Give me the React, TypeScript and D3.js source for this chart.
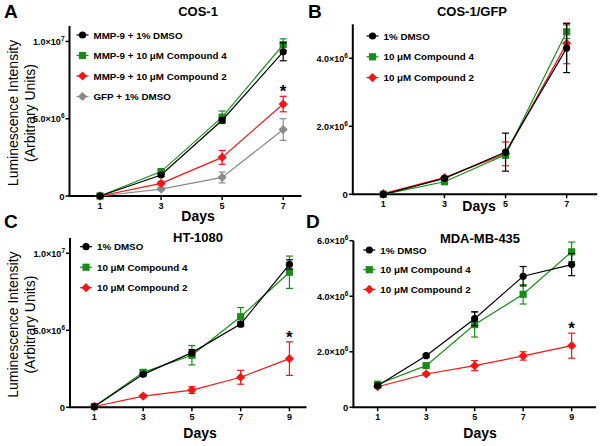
import React from 'react'
import * as d3 from 'd3'

// days sampled
const daysAB = [1, 3, 5, 7]
const daysCD = [1, 3, 5, 7, 9]

// Panel A - COS-1
const aDmso = [0, 1.36e6, 4.9e6, 9.33e6]
const aDmsoErr = [0.03e6, 0.08e6, 0.15e6, 0.58e6]
const aCpd4 = [0, 1.58e6, 5.1e6, 9.8e6]
const aCpd4Err = [0.03e6, 0.1e6, 0.4e6, 0.37e6]
const aCpd2 = [0, 0.82e6, 2.5e6, 5.95e6]
const aCpd2Err = [0.03e6, 0.1e6, 0.45e6, 0.5e6]
const aGfp = [0, 0.45e6, 1.2e6, 4.3e6]
const aGfpErr = [0.03e6, 0.1e6, 0.35e6, 0.7e6]

// Panel B - COS-1/GFP
const bDmso = [0, 0.47e6, 1.24e6, 4.3e6]
const bDmsoErr = [0.02e6, 0.04e6, 0.56e6, 0.72e6]
const bCpd4 = [0, 0.37e6, 1.16e6, 4.78e6]
const bCpd4Err = [0.02e6, 0.04e6, 0.1e6, 0.2e6]
const bCpd2 = [0.02e6, 0.49e6, 1.19e6, 4.44e6]
const bCpd2Err = [0.02e6, 0.04e6, 0.35e6, 0.6e6]

// Panel C - HT-1080
const cDmso = [0.05e6, 2.14e6, 3.55e6, 5.4e6, 9.28e6]
const cDmsoErr = [0.03e6, 0.1e6, 0.2e6, 0.15e6, 0.3e6]
const cCpd4 = [0.05e6, 2.27e6, 3.38e6, 5.88e6, 8.77e6]
const cCpd4Err = [0.03e6, 0.15e6, 0.63e6, 0.6e6, 1.05e6]
const cCpd2 = [0.05e6, 0.73e6, 1.12e6, 1.95e6, 3.16e6]
const cCpd2Err = [0.03e6, 0.1e6, 0.22e6, 0.45e6, 1.09e6]

// Panel D - MDA-MB-435
const dDmso = [0.78e6, 1.86e6, 3.19e6, 4.72e6, 5.14e6]
const dDmsoErr = [0.04e6, 0.05e6, 0.25e6, 0.35e6, 0.4e6]
const dCpd4 = [0.83e6, 1.5e6, 2.98e6, 4.07e6, 5.6e6]
const dCpd4Err = [0.04e6, 0.05e6, 0.45e6, 0.35e6, 0.35e6]
const dCpd2 = [0.74e6, 1.2e6, 1.5e6, 1.85e6, 2.22e6]
const dCpd2Err = [0.04e6, 0.05e6, 0.18e6, 0.15e6, 0.45e6]

const BLACK = '#000000'
const GREEN = '#1b8c1b'
const RED = '#f51515'
const GRAY = '#8a8a8a'

const FONT = '"Liberation Sans", Arial, Helvetica, sans-serif'

type Series = {
  label: string
  color: string
  shape: 'circle' | 'square' | 'diamond'
  values: number[]
  errs: number[]
}

type PanelCfg = {
  letter: string
  title: string
  days: number[]
  xDomain: [number, number]
  xRange: [number, number]
  yDomain: [number, number]
  yRange: [number, number]
  yTicks: number[]
  series: Series[]
  star: boolean
  yLabel: boolean
  titleX: number
  titleY: number
  letterX: number
  letterY: number
  daysX: number
  daysY: number
  legendX: number
  legendY: number
  legendGap: number
}

const panels: PanelCfg[] = [
  {
    letter: 'A', title: 'COS-1', days: daysAB,
    xDomain: [0, 7.6], xRange: [69.5, 301.5],
    yDomain: [0, 1.1e7], yRange: [196, 26],
    yTicks: [0, 5e6, 1e7], star: true, yLabel: true,
    titleX: 198, titleY: 16, letterX: 4, letterY: 18, daysX: 198, daysY: 221,
    legendX: 82.5, legendY: 35, legendGap: 20.5,
    series: [
      { label: 'MMP-9 + 1% DMSO', color: BLACK, shape: 'circle', values: aDmso, errs: aDmsoErr },
      { label: 'MMP-9 + 10 \u03bcM Compound 4', color: GREEN, shape: 'square', values: aCpd4, errs: aCpd4Err },
      { label: 'MMP-9 + 10 \u03bcM Compound 2', color: RED, shape: 'diamond', values: aCpd2, errs: aCpd2Err },
      { label: 'GFP + 1% DMSO', color: GRAY, shape: 'diamond', values: aGfp, errs: aGfpErr },
    ],
  },
  {
    letter: 'B', title: 'COS-1/GFP', days: daysAB,
    xDomain: [0, 8], xRange: [352.8, 597.2],
    yDomain: [0, 5e6], yRange: [194.3, 24.3],
    yTicks: [0, 2e6, 4e6], star: false, yLabel: false,
    titleX: 472, titleY: 16, letterX: 308, letterY: 18, daysX: 479, daysY: 211,
    legendX: 372.5, legendY: 36, legendGap: 20.8,
    series: [
      { label: '1% DMSO', color: BLACK, shape: 'circle', values: bDmso, errs: bDmsoErr },
      { label: '10 \u03bcM Compound 4', color: GREEN, shape: 'square', values: bCpd4, errs: bCpd4Err },
      { label: '10 \u03bcM Compound 2', color: RED, shape: 'diamond', values: bCpd2, errs: bCpd2Err },
    ],
  },
  {
    letter: 'C', title: 'HT-1080', days: daysCD,
    xDomain: [0, 9.7], xRange: [70, 306.5],
    yDomain: [0, 1.1e7], yRange: [407.3, 237.9],
    yTicks: [0, 5e6, 1e7], star: true, yLabel: true,
    titleX: 198, titleY: 242, letterX: 4, letterY: 228, daysX: 200, daysY: 438,
    legendX: 86, legendY: 246.7, legendGap: 20.5,
    series: [
      { label: '1% DMSO', color: BLACK, shape: 'circle', values: cDmso, errs: cDmsoErr },
      { label: '10 \u03bcM Compound 4', color: GREEN, shape: 'square', values: cCpd4, errs: cCpd4Err },
      { label: '10 \u03bcM Compound 2', color: RED, shape: 'diamond', values: cCpd2, errs: cCpd2Err },
    ],
  },
  {
    letter: 'D', title: 'MDA-MB-435', days: daysCD,
    xDomain: [0, 10], xRange: [353.4, 595.9],
    yDomain: [0, 6e6], yRange: [407.3, 240.7],
    yTicks: [0, 2e6, 4e6, 6e6], star: true, yLabel: false,
    titleX: 480, titleY: 243, letterX: 306, letterY: 228, daysX: 480, daysY: 438,
    legendX: 369.3, legendY: 250, legendGap: 19.7,
    series: [
      { label: '1% DMSO', color: BLACK, shape: 'circle', values: dDmso, errs: dDmsoErr },
      { label: '10 \u03bcM Compound 4', color: GREEN, shape: 'square', values: dCpd4, errs: dCpd4Err },
      { label: '10 \u03bcM Compound 2', color: RED, shape: 'diamond', values: dCpd2, errs: dCpd2Err },
    ],
  },
]

const Marker = ({ shape, x, y, color }: { shape: string; x: number; y: number; color: string }) => {
  if (shape === 'circle') return <circle cx={x} cy={y} r={3.6} fill={color} />
  if (shape === 'square') return <rect x={x - 3.6} y={y - 3.6} width={7.2} height={7.2} fill={color} />
  const s = 4.6
  return <path d={`M${x},${y - s}L${x + s},${y}L${x},${y + s}L${x - s},${y}Z`} fill={color} />
}

const TickLabel = ({ v, x, y }: { v: number; x: number; y: number }) => {
  if (v === 0) {
    return <text x={x - 1} y={y + 3.5} textAnchor="end" fontSize={9.5} fontWeight="bold">0</text>
  }
  const e = Math.floor(Math.log10(v))
  const m = (v / Math.pow(10, e)).toFixed(1)
  return (
    <text x={x - 1} y={y + 3.5} textAnchor="end" fontSize={9} fontWeight="bold">
      {m}{'\u00d7'}10
      <tspan dy={-4} fontSize={6.5}>{e}</tspan>
    </text>
  )
}

const Panel = ({ cfg }: { cfg: PanelCfg }) => {
  const x = d3.scaleLinear().domain(cfg.xDomain).range(cfg.xRange)
  const y = d3.scaleLinear().domain(cfg.yDomain).range(cfg.yRange)
  const line = d3.line<[number, number]>().x(d => x(d[0])).y(d => y(d[1]))
  const [x0, x1] = cfg.xRange
  const [yb, yt] = cfg.yRange
  const last = cfg.days[cfg.days.length - 1]
  const red = cfg.series.find(s => s.color === RED)
  return (
    <g>
      <text x={cfg.letterX} y={cfg.letterY} fontSize={19} fontWeight="bold">{cfg.letter}</text>
      <text x={cfg.titleX} y={cfg.titleY} fontSize={13} fontWeight="bold" textAnchor="middle">{cfg.title}</text>
      {cfg.yLabel && (
        <g transform={`translate(18,${(yb + yt) / 2 + 2}) rotate(-90)`}>
          <text x={0} y={0} fontSize={14} textAnchor="middle">Luminescence Intensity</text>
          <text x={0} y={17} fontSize={14} textAnchor="middle">(Arbitrary Units)</text>
        </g>
      )}
      {/* axes */}
      <line x1={x0} x2={x0} y1={yt} y2={yb} stroke="#000" strokeWidth={2} />
      <line x1={x0 - 1} x2={x1} y1={yb} y2={yb} stroke="#000" strokeWidth={2} />
      {cfg.yTicks.map(t => (
        <g key={t}>
          <line x1={x0 - 4} x2={x0} y1={y(t)} y2={y(t)} stroke="#000" strokeWidth={1.5} />
          <TickLabel v={t} x={x0 - 4} y={y(t)} />
        </g>
      ))}
      {cfg.days.map(d => (
        <g key={d}>
          <line x1={x(d)} x2={x(d)} y1={yb} y2={yb + 4} stroke="#000" strokeWidth={1.5} />
          <text x={x(d)} y={yb + 13} fontSize={9} fontWeight="bold" textAnchor="middle">{d}</text>
        </g>
      ))}
      <text x={cfg.daysX} y={cfg.daysY} fontSize={14} fontWeight="bold" textAnchor="middle">Days</text>
      {/* series lines, bottom series drawn first */}
      {[...cfg.series].reverse().map(s => {
        const pts = cfg.days.map((d, i) => [d, s.values[i]] as [number, number])
        return (
          <g key={s.label}>
            <path d={line(pts) || ''} fill="none" stroke={s.color} strokeWidth={1.2} />
            {pts.map(([d, v], i) => (
              <g key={d} stroke={s.color} strokeWidth={1.2}>
                <line x1={x(d)} x2={x(d)} y1={y(v - s.errs[i])} y2={y(v + s.errs[i])} />
                <line x1={x(d) - 3.5} x2={x(d) + 3.5} y1={y(v - s.errs[i])} y2={y(v - s.errs[i])} />
                <line x1={x(d) - 3.5} x2={x(d) + 3.5} y1={y(v + s.errs[i])} y2={y(v + s.errs[i])} />
              </g>
            ))}
            {pts.map(([d, v]) => <Marker key={d} shape={s.shape} x={x(d)} y={y(v)} color={s.color} />)}
          </g>
        )
      })}
      {cfg.star && red && (
        <text x={x(last)} y={y(red.values[red.values.length - 1] + red.errs[red.errs.length - 1]) + 1}
          fontSize={17} fontWeight="bold" textAnchor="middle">*</text>
      )}
      {/* legend */}
      {cfg.series.map((s, i) => {
        const ly = cfg.legendY + i * cfg.legendGap
        return (
          <g key={s.label}>
            <line x1={cfg.legendX - 6} x2={cfg.legendX + 6} y1={ly} y2={ly} stroke={s.color} strokeWidth={1.2} />
            <Marker shape={s.shape} x={cfg.legendX} y={ly} color={s.color} />
            <text x={cfg.legendX + 11} y={ly + 3.5} fontSize={9.8} fontWeight="bold">{s.label}</text>
          </g>
        )
      })}
    </g>
  )
}

export default function App() {
  return (
    <svg width={604} height={446} style={{ position: 'absolute', left: 0, top: 0, background: '#fff' }}
      fontFamily={FONT}>
      <rect width={604} height={446} fill="#fff" />
      {panels.map(p => <Panel key={p.letter} cfg={p} />)}
    </svg>
  )
}
